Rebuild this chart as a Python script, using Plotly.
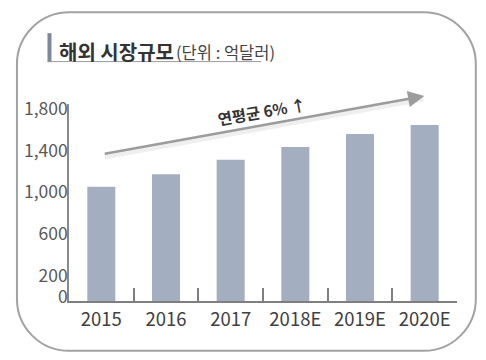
import plotly.graph_objects as go

categories = ["2015", "2016", "2017", "2018E", "2019E", "2020E"]
values = [1090, 1211, 1348, 1471, 1595, 1681]
ytick_vals = [0, 200, 600, 1000, 1400, 1800]
ytick_text = ["0", "200", "600", "1,000", "1,400", "1,800"]
title_main = "해외 시장규모"
title_unit = "(단위 : 억달러)"
growth_text = "연평균 6% ↑"

W, H = 486, 360
L, R, T, B = 69, 29.3, 104, 58.5
PW = W - L - R
PH = H - T - B
Y_MAX = 1881

FONT = "Noto Sans CJK KR"


def px(x):
    return (x - L) / PW


def py(y):
    return (H - B - y) / PH


x_idx = list(range(len(categories)))
boundaries = [i + 0.5 for i in x_idx[:-1]]

fig = go.Figure()
fig.add_trace(go.Bar(
    x=x_idx, y=values,
    marker=dict(color="#a3aec0", line=dict(width=0)),
    hoverinfo="skip",
))

# rounded border
x0, x1, y0, y1, r = 17, 475.5, 12, 351.5, 52
k = 0.45
path = (
    f"M {px(x0 + r)},{py(y0)} L {px(x1 - r)},{py(y0)} "
    f"C {px(x1 - r * k)},{py(y0)} {px(x1)},{py(y0 + r * k)} {px(x1)},{py(y0 + r)} "
    f"L {px(x1)},{py(y1 - r)} "
    f"C {px(x1)},{py(y1 - r * k)} {px(x1 - r * k)},{py(y1)} {px(x1 - r)},{py(y1)} "
    f"L {px(x0 + r)},{py(y1)} "
    f"C {px(x0 + r * k)},{py(y1)} {px(x0)},{py(y1 - r * k)} {px(x0)},{py(y1 - r)} "
    f"L {px(x0)},{py(y0 + r)} "
    f"C {px(x0)},{py(y0 + r * k)} {px(x0 + r * k)},{py(y0)} {px(x0 + r)},{py(y0)} Z"
)
shapes = [
    dict(type="path", xref="paper", yref="paper", path=path,
         line=dict(color="#a2a2a2", width=2), fillcolor="rgba(0,0,0,0)", layer="below"),
    # title side bar
    dict(type="rect", xref="paper", yref="paper",
         x0=px(47.5), x1=px(51.5), y0=py(62), y1=py(33),
         fillcolor="#7d889c", line=dict(width=0)),
    # title underline
    dict(type="line", xref="paper", yref="paper",
         x0=px(48), x1=px(261), y0=py(61.5), y1=py(61.5),
         line=dict(color="#9a9a9a", width=1)),
]

annotations = [
    dict(text=f"<b>{title_main}</b>", xref="paper", yref="paper",
         x=px(57), y=py(51), xanchor="left", yanchor="middle", showarrow=False,
         font=dict(family=FONT, size=20, color="#333333")),
    dict(text=title_unit, xref="paper", yref="paper",
         x=px(174), y=py(52), xanchor="left", yanchor="middle", showarrow=False,
         font=dict(family=FONT, size=16.5, color="#444444")),
    # arrow shadow
    dict(text="", xref="paper", yref="paper", x=px(423), y=py(99),
         ax=-320, ay=58, axref="pixel", ayref="pixel", showarrow=True,
         arrowhead=0, arrowwidth=5, arrowcolor="rgba(0,0,0,0.06)"),
    # growth arrow
    dict(text="", xref="paper", yref="paper", x=px(424), y=py(96),
         ax=-321, ay=58, axref="pixel", ayref="pixel", showarrow=True,
         arrowhead=2, arrowsize=1.3, arrowwidth=2.5, arrowcolor="#9c9c9c"),
    dict(text=f"<b>{growth_text}</b>", xref="paper", yref="paper",
         x=px(261), y=py(111), xanchor="center", yanchor="middle", showarrow=False,
         textangle=-10, font=dict(family=FONT, size=15.5, color="#333333")),
]

fig.update_layout(
    width=W, height=H,
    margin=dict(l=L, r=R, t=T, b=B, pad=0),
    paper_bgcolor="white", plot_bgcolor="white",
    showlegend=False,
    bargap=0.567,
    shapes=shapes,
    annotations=annotations,
    xaxis=dict(
        range=[-0.5, len(categories) - 0.5],
        tickmode="array", tickvals=x_idx, ticktext=categories,
        ticks="", showgrid=False, zeroline=False,
        showline=True, linecolor="#7f7f7f", linewidth=2,
        tickfont=dict(family=FONT, size=18.5, color="#404040"),
        ticklabelstandoff=1,
        minor=dict(tickmode="array", tickvals=boundaries, ticks="inside",
                   ticklen=13, tickwidth=2, tickcolor="#7f7f7f", showgrid=False),
        fixedrange=True,
    ),
    yaxis=dict(
        range=[0, Y_MAX],
        tickmode="array", tickvals=ytick_vals, ticktext=ytick_text,
        ticks="", showgrid=False, zeroline=False,
        showline=True, linecolor="#8a8a8a", linewidth=1.5,
        tickfont=dict(family=FONT, size=17.5, color="#595959"),
        ticklabelshift=-4, ticklabelstandoff=-4,
        fixedrange=True,
    ),
)

fig.write_html(
    "out.html",
    config={"displayModeBar": False},
    post_script="document.body.style.margin='0';document.body.style.padding='0';",
)
